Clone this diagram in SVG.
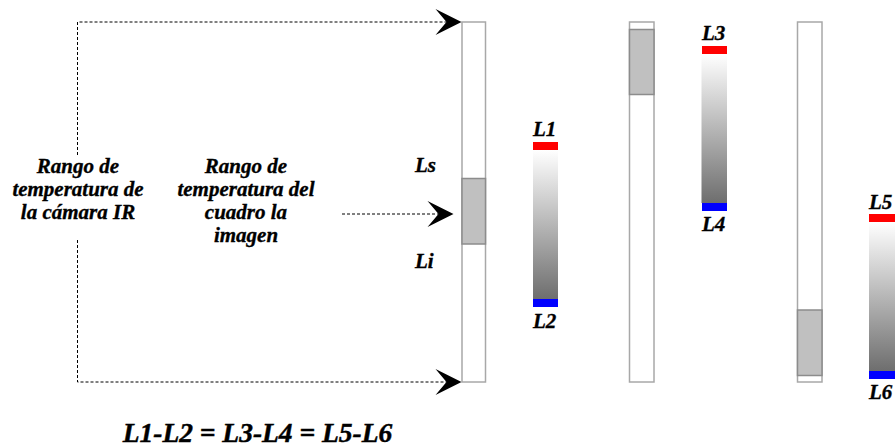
<svg xmlns="http://www.w3.org/2000/svg" width="895" height="448" viewBox="0 0 895 448">
  <style>
    .lbl { font-family: "Liberation Serif", "Times New Roman", serif; font-weight: bold; font-style: italic; font-size: 21px; fill: #000; stroke: #000; stroke-width: 0.35; }
    .mid { text-anchor: middle; }
    .eq { font-family: "Liberation Serif", "Times New Roman", serif; font-weight: bold; font-style: italic; font-size: 27.5px; fill: #000; stroke: #000; stroke-width: 0.45; }
    .frame { fill: #fff; stroke: #a8a8a8; stroke-width: 1.5; }
    .win { fill: #c0c0c0; stroke: #8c8c8c; stroke-width: 1.5; }
    .dash { fill: none; stroke: #000; stroke-width: 1; stroke-dasharray: 3 2; }
    .red { fill: #ff0000; }
    .blue { fill: #0000ff; }
  </style>
  <defs>
    <linearGradient id="scale" x1="0" y1="0" x2="0" y2="1">
      <stop offset="0" stop-color="#ffffff"/>
      <stop offset="1" stop-color="#6e6e6e"/>
    </linearGradient>
    <!-- swept arrowhead, tip at the origin pointing right -->
    <path id="head" d="M0,0 L-26,-13 L-15,0 L-26,13 Z" fill="#000"/>
  </defs>

  <rect width="895" height="448" fill="#fff"/>

  <!-- camera range column with the frame window -->
  <g id="camera-range">
    <rect class="frame" x="462" y="22" width="23.5" height="360"/>
    <rect class="win" x="462" y="178.5" width="23.5" height="65.5"/>
    <text class="lbl" x="415" y="171.5">Ls</text>
    <text class="lbl" x="415" y="268">Li</text>
  </g>

  <!-- scale L1 / L2 -->
  <g id="scale-1">
    <rect x="533" y="150" width="25" height="149" fill="url(#scale)"/>
    <rect class="red" x="533" y="142" width="25" height="8"/>
    <rect class="blue" x="533" y="299" width="25" height="8"/>
    <text class="lbl" x="533" y="136">L1</text>
    <text class="lbl" x="533" y="328">L2</text>
  </g>

  <!-- column with window near the top -->
  <g id="range-high">
    <rect class="frame" x="629.5" y="22" width="24.5" height="360"/>
    <rect class="win" x="629.5" y="29.5" width="24.5" height="65"/>
  </g>

  <!-- scale L3 / L4 -->
  <g id="scale-2">
    <rect x="701.5" y="54" width="25.5" height="149" fill="url(#scale)"/>
    <rect class="red" x="702" y="46" width="25" height="8"/>
    <rect class="blue" x="702" y="203" width="25" height="8"/>
    <text class="lbl" x="702" y="40">L3</text>
    <text class="lbl" x="702" y="231">L4</text>
  </g>

  <!-- column with window near the bottom -->
  <g id="range-low">
    <rect class="frame" x="797.5" y="22" width="24.5" height="360"/>
    <rect class="win" x="797.5" y="310" width="24.5" height="65.5"/>
  </g>

  <!-- scale L5 / L6 -->
  <g id="scale-3">
    <rect x="869" y="222" width="26" height="149" fill="url(#scale)"/>
    <rect class="red" x="869" y="214" width="26" height="8"/>
    <rect class="blue" x="869" y="371" width="26" height="8"/>
    <text class="lbl" x="869" y="208.5">L5</text>
    <text class="lbl" x="869" y="399">L6</text>
  </g>

  <!-- captions -->
  <g id="camera-label">
    <text class="lbl mid" x="78" y="173">Rango de</text>
    <text class="lbl mid" x="78" y="196">temperatura de</text>
    <text class="lbl mid" x="78" y="219">la cámara IR</text>
  </g>
  <g id="frame-label">
    <text class="lbl mid" x="246" y="173">Rango de</text>
    <text class="lbl mid" x="246" y="196">temperatura del</text>
    <text class="lbl mid" x="246" y="219">cuadro la</text>
    <text class="lbl mid" x="246" y="242">imagen</text>
  </g>
  <g id="equation">
    <text class="eq mid" x="257.5" y="442">L1-L2 = L3-L4 = L5-L6</text>
  </g>

  <!-- dotted connectors with arrowheads -->
  <g id="connectors">
    <path class="dash" d="M77.5,155 V22 H447"/>
    <path class="dash" d="M77.5,240 V382 H447"/>
    <path class="dash" d="M342,214 H439"/>
    <use href="#head" transform="translate(461.5,22)"/>
    <use href="#head" transform="translate(461.5,382)"/>
    <use href="#head" transform="translate(453.5,214)"/>
  </g>
</svg>
